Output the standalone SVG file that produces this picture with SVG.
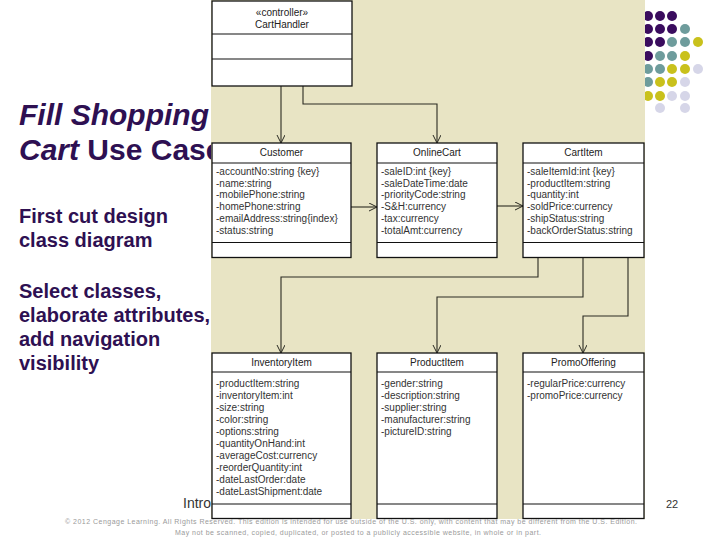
<svg xmlns="http://www.w3.org/2000/svg" width="720" height="540" viewBox="0 0 720 540">
<style>
.title{font-family:"Liberation Sans",Arial,sans-serif;font-weight:bold;font-size:30px;fill:#2e1052}
.body{font-family:"Liberation Sans",Arial,sans-serif;font-weight:bold;font-size:20px;fill:#2e1052}
.box{fill:#fff;stroke:#111;stroke-width:1.3}
.div{stroke:#111;stroke-width:1.2}
.hd{font-family:"Liberation Sans",Arial,sans-serif;font-size:10px;fill:#222;text-anchor:middle}
.at{font-family:"Liberation Sans",Arial,sans-serif;font-size:10px;fill:#333}
.con{fill:none;stroke:#2a2a22;stroke-width:1.1}
.p{fill:#3a0c5e}.t{fill:#6e9c9c}.y{fill:#c9c11c}.l{fill:#d6d6e8}
.cp{font-family:"Liberation Sans",Arial,sans-serif;font-size:7px;fill:#9a9a9a}
</style>
<defs>
<marker id="arr" markerUnits="userSpaceOnUse" markerWidth="10" markerHeight="10" refX="8" refY="4" orient="auto">
<path d="M0,0 L8,4 L0,8" fill="none" stroke="#2a2a22" stroke-width="1"/>
</marker>
</defs>
<rect width="720" height="540" fill="#fff"/>
<g id="title">
<text class="title" x="19" y="125" font-style="italic">Fill Shopping</text>
<text class="title" x="19" y="160"><tspan font-style="italic">Cart</tspan> Use Case</text>
</g>
<g id="bullets">
<text class="body" x="19" y="223">First cut design</text>
<text class="body" x="19" y="247">class diagram</text>
<text class="body" x="19" y="298">Select classes,</text>
<text class="body" x="19" y="322">elaborate attributes,</text>
<text class="body" x="19" y="346">add navigation</text>
<text class="body" x="19" y="370">visibility</text>
</g>
<g id="dots">
<circle class="p" cx="636" cy="16" r="5"/><circle class="p" cx="648" cy="16" r="5"/><circle class="p" cx="660" cy="16" r="5"/><circle class="p" cx="672" cy="16" r="5"/>
<circle class="p" cx="636" cy="29" r="5"/><circle class="p" cx="648" cy="29" r="5"/><circle class="p" cx="660" cy="29" r="5"/><circle class="p" cx="672" cy="29" r="5"/><circle class="t" cx="685" cy="29" r="5"/>
<circle class="p" cx="636" cy="42" r="5"/><circle class="p" cx="648" cy="42" r="5"/><circle class="p" cx="660" cy="42" r="5"/><circle class="t" cx="672" cy="42" r="5"/><circle class="t" cx="685" cy="42" r="5"/><circle class="y" cx="698" cy="42" r="5"/>
<circle class="p" cx="636" cy="56" r="5"/><circle class="p" cx="648" cy="56" r="5"/><circle class="t" cx="660" cy="56" r="5"/><circle class="t" cx="672" cy="56" r="5"/><circle class="y" cx="685" cy="56" r="5"/>
<circle class="t" cx="636" cy="69" r="5"/><circle class="t" cx="648" cy="69" r="5"/><circle class="t" cx="660" cy="69" r="5"/><circle class="y" cx="672" cy="69" r="5"/><circle class="y" cx="685" cy="69" r="5"/><circle class="l" cx="698" cy="69" r="5"/>
<circle class="t" cx="636" cy="82" r="5"/><circle class="t" cx="648" cy="82" r="5"/><circle class="y" cx="660" cy="82" r="5"/><circle class="y" cx="672" cy="82" r="5"/><circle class="l" cx="685" cy="82" r="5"/>
<circle class="y" cx="636" cy="96" r="5"/><circle class="y" cx="648" cy="96" r="5"/><circle class="y" cx="660" cy="96" r="5"/><circle class="l" cx="672" cy="96" r="5"/><circle class="l" cx="685" cy="96" r="5"/>
<circle class="l" cx="660" cy="108" r="5"/><circle class="l" cx="685" cy="108" r="5"/>
</g>
<text id="footer-left" x="183" y="508" font-family="'Liberation Sans',Arial,sans-serif" font-size="14" fill="#333">Intro</text>
<text id="page" x="666" y="508" font-family="'Liberation Sans',Arial,sans-serif" font-size="11" fill="#333">22</text>
<rect id="panel" x="211" y="0" width="434" height="519" fill="#e8e4c4"/>
<g id="connectors">
<path class="con" d="M281,86 V143" marker-end="url(#arr)"/>
<path class="con" d="M303,86 V104 H437 V143" marker-end="url(#arr)"/>
<path class="con" d="M351,207 H377" marker-end="url(#arr)"/>
<path class="con" d="M497,206 H523" marker-end="url(#arr)"/>
<path class="con" d="M538,257.5 V277 H281 V353" marker-end="url(#arr)"/>
<path class="con" d="M583,257.5 V297 H437 V353" marker-end="url(#arr)"/>
<path class="con" d="M628,257.5 V316 H583 V353" marker-end="url(#arr)"/>
</g>
<g id="CartHandler">
<rect class="box" x="212" y="1" width="140" height="85"/>
<line class="div" x1="212" y1="34" x2="352" y2="34"/>
<line class="div" x1="212" y1="59" x2="352" y2="59"/>
<text class="hd" x="282" y="16">«controller»</text>
<text class="hd" x="282" y="28">CartHandler</text>
</g>
<g id="Customer">
<rect class="box" x="212" y="143" width="139" height="114.5"/>
<line class="div" x1="212" y1="163" x2="351" y2="163"/>
<line class="div" x1="212" y1="242.5" x2="351" y2="242.5"/>
<text class="hd" x="281.5" y="156">Customer</text>
<text class="at" x="216" y="175">-accountNo:string {key}</text>
<text class="at" x="216" y="186.7">-name:string</text>
<text class="at" x="216" y="198.4">-mobilePhone:string</text>
<text class="at" x="216" y="210.1">-homePhone:string</text>
<text class="at" x="216" y="221.8">-emailAddress:string{index}</text>
<text class="at" x="216" y="233.5">-status:string</text>
</g>
<g id="OnlineCart">
<rect class="box" x="377" y="143" width="120" height="114.5"/>
<line class="div" x1="377" y1="163" x2="497" y2="163"/>
<line class="div" x1="377" y1="242.5" x2="497" y2="242.5"/>
<text class="hd" x="437" y="156">OnlineCart</text>
<text class="at" x="381" y="175">-saleID:int {key}</text>
<text class="at" x="381" y="186.7">-saleDateTime:date</text>
<text class="at" x="381" y="198.4">-priorityCode:string</text>
<text class="at" x="381" y="210.1">-S&amp;H:currency</text>
<text class="at" x="381" y="221.8">-tax:currency</text>
<text class="at" x="381" y="233.5">-totalAmt:currency</text>
</g>
<g id="CartItem">
<rect class="box" x="523" y="143" width="121" height="114.5"/>
<line class="div" x1="523" y1="163" x2="644" y2="163"/>
<line class="div" x1="523" y1="242.5" x2="644" y2="242.5"/>
<text class="hd" x="583.5" y="156">CartItem</text>
<text class="at" x="527" y="175">-saleItemId:int {key}</text>
<text class="at" x="527" y="186.7">-productItem:string</text>
<text class="at" x="527" y="198.4">-quantity:int</text>
<text class="at" x="527" y="210.1">-soldPrice:currency</text>
<text class="at" x="527" y="221.8">-shipStatus:string</text>
<text class="at" x="527" y="233.5">-backOrderStatus:string</text>
</g>
<g id="InventoryItem">
<rect class="box" x="212" y="353" width="139" height="165.5"/>
<line class="div" x1="212" y1="372" x2="351" y2="372"/>
<line class="div" x1="212" y1="504" x2="351" y2="504"/>
<text class="hd" x="281.5" y="366">InventoryItem</text>
<text class="at" x="216" y="386.5">-productItem:string</text>
<text class="at" x="216" y="398.5">-inventoryItem:int</text>
<text class="at" x="216" y="410.5">-size:string</text>
<text class="at" x="216" y="422.5">-color:string</text>
<text class="at" x="216" y="434.5">-options:string</text>
<text class="at" x="216" y="446.5">-quantityOnHand:int</text>
<text class="at" x="216" y="458.5">-averageCost:currency</text>
<text class="at" x="216" y="470.5">-reorderQuantity:int</text>
<text class="at" x="216" y="482.5">-dateLastOrder:date</text>
<text class="at" x="216" y="494.5">-dateLastShipment:date</text>
</g>
<g id="ProductItem">
<rect class="box" x="377" y="353" width="120" height="165.5"/>
<line class="div" x1="377" y1="372" x2="497" y2="372"/>
<line class="div" x1="377" y1="504" x2="497" y2="504"/>
<text class="hd" x="437" y="366">ProductItem</text>
<text class="at" x="381" y="386.5">-gender:string</text>
<text class="at" x="381" y="398.5">-description:string</text>
<text class="at" x="381" y="410.5">-supplier:string</text>
<text class="at" x="381" y="422.5">-manufacturer:string</text>
<text class="at" x="381" y="434.5">-pictureID:string</text>
</g>
<g id="PromoOffering">
<rect class="box" x="523" y="353" width="121" height="165.5"/>
<line class="div" x1="523" y1="372" x2="644" y2="372"/>
<line class="div" x1="523" y1="504" x2="644" y2="504"/>
<text class="hd" x="583.5" y="366">PromoOffering</text>
<text class="at" x="527" y="386.5">-regularPrice:currency</text>
<text class="at" x="527" y="398.5">-promoPrice:currency</text>
</g>
<g id="copyright">
<text class="cp" x="65" y="524" textLength="572" lengthAdjust="spacing">© 2012 Cengage Learning. All Rights Reserved. This edition is intended for use outside of the U.S. only, with content that may be different from the U.S. Edition.</text>
<text class="cp" x="175" y="535" textLength="366" lengthAdjust="spacing">May not be scanned, copied, duplicated, or posted to a publicly accessible website, in whole or in part.</text>
</g>
</svg>
